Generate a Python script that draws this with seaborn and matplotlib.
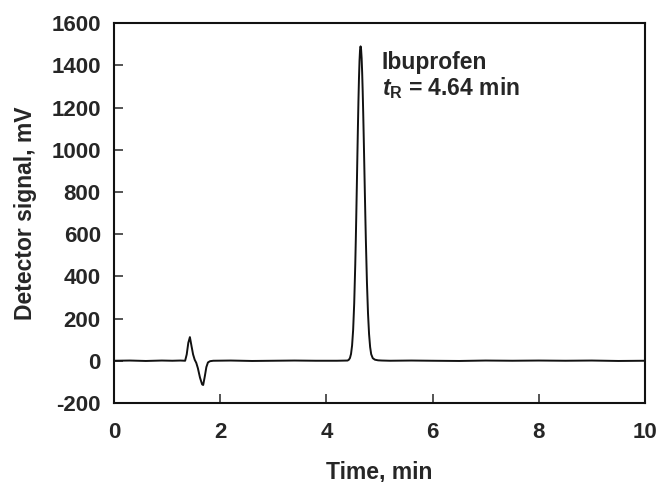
import matplotlib
matplotlib.use("Agg")
import matplotlib.pyplot as plt
import seaborn as sns

# Chromatogram (time in min, signal in mV)
time_min = [0.0, 0.3, 0.6, 0.9, 1.1, 1.25, 1.34, 1.37, 1.40, 1.43, 1.46, 1.49, 1.52, 1.55,
            1.58, 1.62, 1.66, 1.68, 1.71, 1.74, 1.77, 1.81, 1.87, 2.2, 2.6, 3.0, 3.4, 3.8,
            4.2, 4.40, 4.425, 4.445, 4.465, 4.485, 4.505, 4.525, 4.545, 4.555, 4.565,
            4.575, 4.585, 4.595, 4.605, 4.615, 4.625, 4.635, 4.645, 4.655, 4.665, 4.675,
            4.685, 4.695, 4.705, 4.715, 4.725, 4.735, 4.745, 4.765, 4.785, 4.805, 4.825,
            4.845, 4.875, 4.915, 4.975, 5.05,
            5.2, 5.6, 6.0, 6.5, 7.0, 7.5, 8.0, 8.5, 9.0, 9.5, 10.0]
signal_mv = [0, 1, -1, 1, 0, 1, 0, 30, 85, 112, 70, 30, 5, -10,
             -35, -80, -112, -115, -75, -30, -8, -2, 0, 1, -1, 0, 1, 0,
             0, 1, 5, 13, 32, 72, 146, 271, 457, 571, 699,
             834, 973, 1108, 1233, 1340, 1421, 1473, 1490, 1475, 1434, 1366,
             1277, 1171, 1053, 929, 804, 682, 568, 371, 225, 126, 65,
             31, 12, 5, 2, 1,
             0, 1, 0, -1, 1, 0, 1, 0, 1, -1, 0]

x_ticks = [0, 2, 4, 6, 8, 10]
y_ticks = [-200, 0, 200, 400, 600, 800, 1000, 1200, 1400, 1600]

sns.set_theme(style="ticks")
plt.rcParams["font.family"] = ["Liberation Sans", "DejaVu Sans"]
plt.rcParams["font.weight"] = "bold"
plt.rcParams["axes.unicode_minus"] = False
plt.rcParams["mathtext.fontset"] = "custom"
plt.rcParams["mathtext.it"] = "Liberation Sans:italic:bold"
plt.rcParams["mathtext.rm"] = "Liberation Sans"

fig = plt.figure(figsize=(6.57, 4.82), dpi=100)
ax = fig.add_axes([0.1735, 0.164, 0.808, 0.788])

sns.lineplot(x=time_min, y=signal_mv, ax=ax, color="#111111", linewidth=1.4)

ax.set_xlim(0, 10)
ax.set_ylim(-200, 1600)
ax.set_xticks(x_ticks)
ax.set_yticks(y_ticks)
ax.tick_params(axis="x", direction="in", length=6.5, width=1.1, pad=14,
               labelsize=16, top=False)
ax.tick_params(axis="y", direction="in", length=6.5, width=1.1, pad=9.5,
               labelsize=16, right=False)
for lab in ax.get_xticklabels() + ax.get_yticklabels():
    lab.set_fontweight("bold")

for sp in ax.spines.values():
    sp.set_visible(True)
    sp.set_linewidth(1.5)
    sp.set_color("#111111")

ax.set_xlabel("Time, min", fontsize=16.5, fontweight="bold", labelpad=12)
ax.set_ylabel("Detector signal, mV", fontsize=16.5, fontweight="bold", labelpad=10)

ax.text(5.04, 1382, "Ibuprofen", fontsize=16.5, fontweight="bold", ha="left", va="baseline")
ax.text(5.04, 1259, r"$t_\mathrm{R}$ = 4.64 min", fontsize=16.5, fontweight="bold",
        ha="left", va="baseline")

fig.savefig("out.png", dpi=100)
